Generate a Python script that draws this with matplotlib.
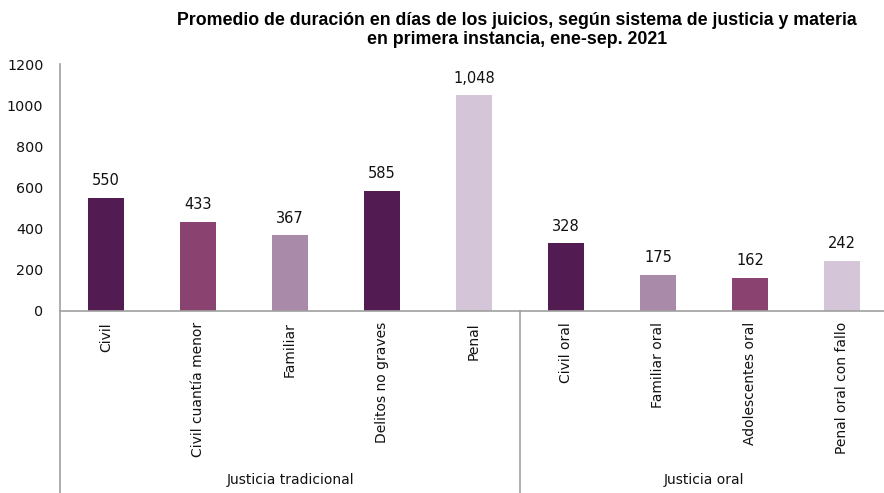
import matplotlib
matplotlib.use("Agg")
import matplotlib.pyplot as plt

categories = ["Civil", "Civil cuantía menor", "Familiar", "Delitos no graves", "Penal",
              "Civil oral", "Familiar oral", "Adolescentes oral", "Penal oral con fallo"]
values = [550, 433, 367, 585, 1048, 328, 175, 162, 242]
groups = ["Justicia tradicional", "Justicia oral"]
group_sizes = [5, 4]
yticks = [0, 200, 400, 600, 800, 1000, 1200]

c_dark = "#521b51"
c_med = "#8a4370"
c_lmed = "#a98ba9"
c_light = "#d4c5d8"
colors = [c_dark, c_med, c_lmed, c_dark, c_light, c_dark, c_lmed, c_med, c_light]

plt.rcParams['font.family'] = ['DejaVu Sans']

W, H = 884, 493
fig = plt.figure(figsize=(W / 100, H / 100), dpi=100)
left_px, right_px, bot_px, top_px = 60, 884, 311, 64
ax = fig.add_axes([left_px / W, 1 - bot_px / H, (right_px - left_px) / W, (bot_px - top_px) / H])

x = list(range(len(categories)))
ax.bar(x, values, width=0.4, color=colors)
cat_w = 92.0
ax.set_xlim(-0.5, -0.5 + (right_px - left_px) / cat_w)
ax.set_ylim(0, 1200)
ax.set_yticks(yticks)
ax.set_yticklabels([str(t) for t in yticks], fontsize=10.3, color="#111111")
ax.tick_params(axis='y', length=0, pad=12)
ax.set_xticks(x)
ax.set_xticklabels(categories, rotation=90, fontsize=10, va='top', ha='center', color="#111111")
ax.tick_params(axis='x', length=0, pad=8)

for s in ['top', 'right']:
    ax.spines[s].set_visible(False)
for s in ['left', 'bottom']:
    ax.spines[s].set_color("#a0a0a0")
    ax.spines[s].set_linewidth(1.2)

for xi, v in zip(x, values):
    ax.annotate(f"{v:,}", (xi, v), xytext=(0, 7), textcoords='offset points',
                ha='center', va='bottom', fontsize=10.5, color="#111111")

# group separators and labels
trans = ax.get_xaxis_transform()
y_bottom = -(H - bot_px) / (bot_px - top_px)
start = -0.5
bounds = [start]
for g in group_sizes:
    start += g
    bounds.append(start)
for b in bounds[:-1]:
    ax.plot([b, b], [0, y_bottom], transform=trans, color="#a0a0a0", lw=1.2, clip_on=False)
y_lab = -(480 - bot_px) / (bot_px - top_px)
for i, g in enumerate(groups):
    lo, hi = bounds[i], bounds[i + 1]
    ax.text((lo + hi) / 2, y_lab, g, transform=trans, ha='center', va='center',
            fontsize=10, color="#111111")

fig.text(517 / W, 1 - 30 / H,
         "Promedio de duración en días de los juicios, según sistema de justicia y materia\nen primera instancia, ene-sep. 2021",
         ha='center', va='center', fontsize=12.8, fontweight='bold', family='Liberation Sans',
         linespacing=1.1)

fig.savefig("out.png", dpi=100)
